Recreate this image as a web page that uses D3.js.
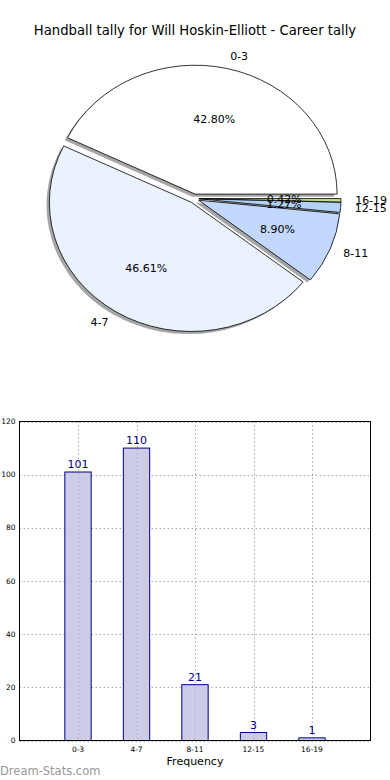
<!DOCTYPE html>
<html>
<head>
<meta charset="utf-8">
<script src="https://cdn.jsdelivr.net/npm/d3@7"></script>
<style>
  body { margin: 0; background: #fff; }
  svg { display: block; font-family: "DejaVu Sans", sans-serif; }
</style>
</head>
<body>
<div id="chart"></div>
<script>
// data
const categories = ["0-3", "4-7", "8-11", "12-15", "16-19"];
const counts = [101, 110, 21, 3, 1];
const sliceColors = ["#ffffff", "#ebf2ff", "#c3d8ff", "#b3d1f5", "#c3dc8c"];
const yTicks = [0, 20, 40, 60, 80, 100, 120];
const titleText = "Handball tally for Will Hoskin-Elliott - Career tally";

const W = 390, H = 780;
const svg = d3.select("#chart").append("svg")
    .attr("width", W)
    .attr("height", H);

// title
svg.append("text")
    .attr("x", 195).attr("y", 35)
    .attr("text-anchor", "middle")
    .attr("font-size", 13.2)
    .attr("fill", "#000")
    .text(titleText);

// ---- pie (elliptical, like matplotlib without equal aspect) ----
const cx = 194, cy = 198.5, rx = 142, ry = 129;
const explode = 0.035;
const total = d3.sum(counts);

// matplotlib starts at 3 o'clock going counter-clockwise
const pie = d3.pie().sort(null).sortValues(null)
    .startAngle(Math.PI / 2)
    .endAngle(Math.PI / 2 - 2 * Math.PI);
const arcs = pie(counts);
const arc = d3.arc().innerRadius(0).outerRadius(1);

// screen position of a point at unit distance r along d3 angle a
function pt(a, r) {
    return [Math.sin(a) * r, -Math.cos(a) * r];
}
function offsetOf(d) {
    const mid = (d.startAngle + d.endAngle) / 2;
    const p = pt(mid, explode);
    return [cx + p[0] * rx, cy + p[1] * ry];
}

const pieG = svg.append("g");

// shadows first (underneath every wedge)
pieG.selectAll("path.shadow")
    .data(arcs)
    .enter()
    .append("path")
    .attr("class", "shadow")
    .attr("d", arc)
    .attr("transform", d => {
        const o = offsetOf(d);
        return `translate(${o[0] - 2.8},${o[1] + 2.6}) scale(${rx},${ry})`;
    })
    .attr("fill", "#4d4d4d")
    .attr("fill-opacity", 0.5);

pieG.selectAll("path.wedge")
    .data(arcs)
    .enter()
    .append("path")
    .attr("class", "wedge")
    .attr("d", arc)
    .attr("transform", d => {
        const o = offsetOf(d);
        return `translate(${o[0]},${o[1]}) scale(${rx},${ry})`;
    })
    .attr("fill", (d, i) => sliceColors[i])
    .attr("stroke", "#000")
    .attr("stroke-width", 0.8)
    .attr("vector-effect", "non-scaling-stroke");

// category labels at 1.1 radius
pieG.selectAll("text.cat")
    .data(arcs)
    .enter()
    .append("text")
    .attr("class", "cat")
    .each(function (d, i) {
        const mid = (d.startAngle + d.endAngle) / 2;
        const o = offsetOf(d);
        const p = pt(mid, 1.1);
        d3.select(this)
            .attr("x", o[0] + p[0] * rx)
            .attr("y", o[1] + p[1] * ry)
            .attr("text-anchor", p[0] > 0 ? "start" : "end");
    })
    .attr("dy", "0.35em")
    .attr("font-size", 11)
    .text((d, i) => categories[i]);

// percentage labels at 0.6 radius
pieG.selectAll("text.pct")
    .data(arcs)
    .enter()
    .append("text")
    .attr("class", "pct")
    .each(function (d) {
        const mid = (d.startAngle + d.endAngle) / 2;
        const o = offsetOf(d);
        const p = pt(mid, 0.6);
        d3.select(this)
            .attr("x", o[0] + p[0] * rx)
            .attr("y", o[1] + p[1] * ry);
    })
    .attr("dy", "0.35em")
    .attr("text-anchor", "middle")
    .attr("font-size", 11)
    .text(d => (d.value / total * 100).toFixed(2) + "%");

// ---- bar chart ----
const m = {left: 19.5, right: 370.5, top: 421.5, bottom: 740.5};
const x = d3.scaleLinear().domain([-1, 5]).range([m.left, m.right]);
const y = d3.scaleLinear().domain([0, 120]).range([m.bottom, m.top]);
const barW = 0.45;

const barG = svg.append("g");

// grid
barG.selectAll("line.hgrid")
    .data(yTicks)
    .enter()
    .append("line")
    .attr("x1", m.left).attr("x2", m.right)
    .attr("y1", d => Math.round(y(d)) + 0.5).attr("y2", d => Math.round(y(d)) + 0.5)
    .attr("stroke", "#a8a8a8")
    .attr("stroke-dasharray", "1.5,2.5");

barG.selectAll("line.vgrid")
    .data(categories)
    .enter()
    .append("line")
    .attr("x1", (d, i) => Math.round(x(i)) + 0.5).attr("x2", (d, i) => Math.round(x(i)) + 0.5)
    .attr("y1", m.top).attr("y2", m.bottom)
    .attr("stroke", "#a8a8a8")
    .attr("stroke-dasharray", "1.5,2.5");

// bars
barG.selectAll("rect.bar")
    .data(counts)
    .enter()
    .append("rect")
    .attr("class", "bar")
    .attr("x", (d, i) => x(i - barW / 2))
    .attr("width", (d, i) => x(i + barW / 2) - x(i - barW / 2))
    .attr("y", d => y(d))
    .attr("height", d => y(0) - y(d))
    .attr("fill", "#ccccE6")
    .attr("stroke", "#000088")
    .attr("stroke-width", 1);

// grid shows through the bars a little
barG.selectAll("line.vgrid2")
    .data(categories)
    .enter()
    .append("line")
    .attr("x1", (d, i) => Math.round(x(i)) + 0.5).attr("x2", (d, i) => Math.round(x(i)) + 0.5)
    .attr("y1", (d, i) => y(counts[i]) + 1).attr("y2", m.bottom)
    .attr("stroke", "#b0b0c8")
    .attr("stroke-dasharray", "1.5,2.5");

// value labels
barG.selectAll("text.val")
    .data(counts)
    .enter()
    .append("text")
    .attr("x", (d, i) => x(i))
    .attr("y", d => y(d) - 4)
    .attr("text-anchor", "middle")
    .attr("font-size", 11)
    .attr("fill", "#00008b")
    .text(d => d);

// frame
barG.append("rect")
    .attr("x", m.left).attr("y", m.top)
    .attr("width", m.right - m.left).attr("height", m.bottom - m.top)
    .attr("fill", "none")
    .attr("stroke", "#000")
    .attr("stroke-width", 1);

// y tick labels
barG.selectAll("text.ytick")
    .data(yTicks)
    .enter()
    .append("text")
    .attr("x", m.left - 4)
    .attr("y", d => y(d))
    .attr("dy", "0.35em")
    .attr("text-anchor", "end")
    .attr("font-size", 7.5)
    .text(d => d);

// x tick labels
barG.selectAll("text.xtick")
    .data(categories)
    .enter()
    .append("text")
    .attr("x", (d, i) => x(i))
    .attr("y", m.bottom + 11)
    .attr("text-anchor", "middle")
    .attr("font-size", 7.5)
    .text(d => d);

// x axis label
barG.append("text")
    .attr("x", (m.left + m.right) / 2)
    .attr("y", 765)
    .attr("text-anchor", "middle")
    .attr("font-size", 11)
    .text("Frequency");

// watermark
svg.append("text")
    .attr("x", 0).attr("y", 775)
    .attr("font-size", 11.5)
    .attr("fill", "#999")
    .text("Dream-Stats.com");
</script>
</body>
</html>
